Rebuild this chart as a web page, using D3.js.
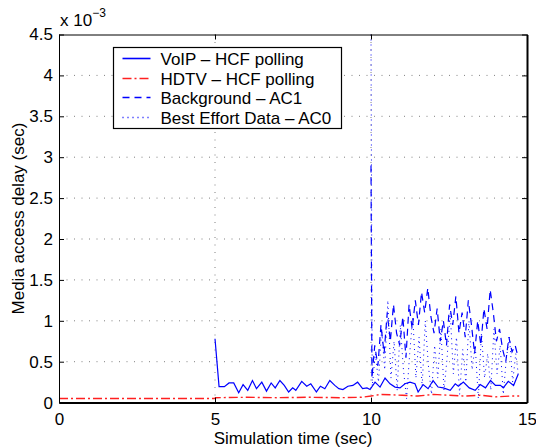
<!DOCTYPE html>
<html>
<head>
<meta charset="UTF-8">
<title>Media access delay</title>
<script src="https://cdn.jsdelivr.net/npm/d3@7"></script>
<style>
  body { margin: 0; background: #fff; }
  svg { font-family: "Liberation Sans", Arial, Helvetica, sans-serif; }
  .grid line { stroke: #808080; stroke-dasharray: 1, 6.5; }
  .axis path, .axis line { stroke: #000; }
  .axis text { font-size: 17px; fill: #000; }
  .thick path { stroke-width: 2; }
</style>
</head>
<body>
<svg id="chart" width="536" height="448"></svg>
<script>
// delays in units of 10^-3 sec
var voipT = [5.00, 5.13, 5.30, 5.45, 5.60, 5.76, 5.90, 6.05, 6.20, 6.33, 6.50, 6.65, 6.80, 6.93, 7.08, 7.22,
             7.36, 7.49, 7.59, 7.78, 7.94, 8.07, 8.25, 8.38, 8.52, 8.68, 8.84, 8.97, 9.10, 9.26, 9.42, 9.57,
             9.73, 9.87, 9.97, 10.13, 10.29, 10.45, 10.61, 10.77, 10.93, 11.09, 11.25, 11.41, 11.51, 11.67,
             11.83, 11.99, 12.15, 12.32, 12.54, 12.70, 12.80, 12.96, 13.15, 13.34, 13.50, 13.67, 13.83, 13.99,
             14.15, 14.24, 14.40, 14.57, 14.72];
var voipV = [0.78, 0.195, 0.195, 0.24, 0.24, 0.12, 0.22, 0.15, 0.27, 0.17, 0.25, 0.14, 0.24, 0.18, 0.27, 0.21,
             0.13, 0.18, 0.15, 0.26, 0.20, 0.23, 0.13, 0.20, 0.17, 0.27, 0.21, 0.17, 0.16, 0.20, 0.21, 0.25,
             0.17, 0.18, 0.16, 0.25, 0.19, 0.30, 0.23, 0.19, 0.18, 0.23, 0.25, 0.23, 0.13, 0.22,
             0.17, 0.27, 0.19, 0.18, 0.15, 0.23, 0.20, 0.25, 0.18, 0.15, 0.22, 0.18, 0.27, 0.21,
             0.21, 0.18, 0.26, 0.21, 0.35];

var hdtvT = [0.00, 4.98, 5.02, 6.00, 7.00, 8.00, 9.00, 9.70, 10.00, 10.30, 11.00, 11.50, 12.00, 12.50, 13.00, 13.50, 14.00, 14.50, 14.75];
var hdtvV = [0.05, 0.05, 0.06, 0.065, 0.06, 0.065, 0.06, 0.065, 0.08, 0.10, 0.09, 0.08, 0.10, 0.09, 0.08, 0.09, 0.07, 0.08, 0.08];

var bgT = [10.00, 10.03, 10.12, 10.22, 10.32, 10.42, 10.52, 10.62, 10.72, 10.82, 10.92, 11.02, 11.12, 11.22, 11.32, 11.42,
           11.52, 11.62, 11.72, 11.82, 11.92, 12.02, 12.12, 12.22, 12.32, 12.42, 12.52, 12.62, 12.72, 12.82, 12.92, 13.02,
           13.12, 13.22, 13.32, 13.42, 13.52, 13.62, 13.72, 13.82, 13.92, 14.02, 14.12, 14.22, 14.32, 14.42, 14.52, 14.62, 14.72];
var bgV = [2.90, 0.30, 0.70, 0.45, 0.95, 0.60, 1.10, 0.75, 1.20, 0.85, 0.70, 1.05, 0.55, 1.20, 0.90, 1.25,
           0.95, 1.35, 1.10, 1.40, 1.05, 0.85, 1.15, 0.75, 1.00, 0.70, 1.20, 0.95, 1.30, 0.85, 1.10, 0.80,
           1.25, 0.95, 0.60, 1.00, 0.70, 1.15, 0.90, 1.38, 1.10, 0.75, 0.90, 0.65, 0.50, 0.80, 0.62, 0.70, 0.55];

var beT = [10.00, 10.04, 10.14, 10.24, 10.34, 10.44, 10.54, 10.64, 10.74, 10.84, 10.94, 11.04, 11.14, 11.24, 11.34, 11.44,
           11.54, 11.64, 11.74, 11.84, 11.94, 12.04, 12.14, 12.24, 12.34, 12.44, 12.54, 12.64, 12.74, 12.84, 12.94, 13.04,
           13.14, 13.24, 13.34, 13.44, 13.54, 13.64, 13.74, 13.84, 13.94, 14.04, 14.14, 14.24, 14.34, 14.44, 14.54, 14.64, 14.72];
var beV = [4.50, 0.20, 0.60, 0.25, 0.90, 0.40, 1.25, 0.30, 0.75, 0.15, 0.95, 0.40, 0.05, 0.60, 1.05, 0.30,
           0.80, 0.20, 1.00, 0.45, 0.10, 0.70, 0.30, 0.90, 0.15, 0.55, 1.10, 0.35, 0.80, 0.10, 0.65, 0.25,
           1.00, 0.40, 0.70, 0.05, 0.85, 0.30, 0.60, 0.15, 0.90, 0.35, 0.70, 0.10, 0.55, 0.80, 0.25, 0.60, 0.35];

var xTicks = [0, 5, 10, 15];
var yTicks = [0, 0.5, 1, 1.5, 2, 2.5, 3, 3.5, 4, 4.5];
var names = ["VoIP \u2013 HCF polling", "HDTV \u2013 HCF polling", "Background \u2013 AC1", "Best Effort Data \u2013 AC0"];

var svg = d3.select("#chart"),
    margin = {top: 34.5, right: 9, bottom: 45.4, left: 59},
    width = +svg.attr("width") - margin.left - margin.right,
    height = +svg.attr("height") - margin.top - margin.bottom;

var x = d3.scaleLinear().domain([0, 15]).range([0, width]);
var y = d3.scaleLinear().domain([0, 4.5]).range([height, 0]);

var g = svg.append("g").attr("transform", "translate(" + margin.left + "," + margin.top + ")");

g.append("defs").append("clipPath").attr("id", "clip")
  .append("rect").attr("width", width).attr("height", height);

// grid
g.append("g").attr("class", "grid")
  .selectAll("line").data(xTicks.slice(1, -1)).enter().append("line")
  .attr("x1", d => x(d)).attr("x2", d => x(d)).attr("y1", 0).attr("y2", height);
g.append("g").attr("class", "grid")
  .selectAll("line").data(yTicks.slice(1, -1)).enter().append("line")
  .attr("y1", d => y(d)).attr("y2", d => y(d)).attr("x1", 0).attr("x2", width);

// series
var series = [
  {t: voipT, v: voipV, color: "#0000ff", dash: null, w: 1.2},
  {t: hdtvT, v: hdtvV, color: "#ff2020", dash: "9,3,2,3", w: 1.4},
  {t: bgT, v: bgV, color: "#0000ff", dash: "7,5", w: 1.2},
  {t: beT, v: beV, color: "#0000ff", dash: "1,4", w: 1}
];

var line = d3.line().x(d => x(d[0])).y(d => y(d[1]));

var plot = g.append("g").attr("clip-path", "url(#clip)");
series.slice().reverse().forEach(function(s) {
  plot.append("path")
    .datum(s.t.map((t, i) => [t, s.v[i]]))
    .attr("fill", "none")
    .attr("stroke", s.color)
    .attr("stroke-width", s.w)
    .attr("stroke-dasharray", s.dash)
    .attr("d", line);
});

// axes (ticks inward)
g.append("g").attr("class", "axis thick")
  .attr("transform", "translate(0," + height + ")")
  .call(d3.axisBottom(x).tickValues(xTicks).tickSizeInner(-5).tickSizeOuter(0).tickPadding(10).tickFormat(d3.format("d")));
g.append("g").attr("class", "axis")
  .call(d3.axisTop(x).tickValues(xTicks).tickSizeInner(-5).tickSizeOuter(0).tickFormat(""));
g.append("g").attr("class", "axis")
  .call(d3.axisLeft(y).tickValues(yTicks).tickSizeInner(-5).tickSizeOuter(0).tickPadding(6).tickFormat(d => d3.format("")(d)));
g.append("g").attr("class", "axis thick")
  .attr("transform", "translate(" + width + ",0)")
  .call(d3.axisRight(y).tickValues(yTicks).tickSizeInner(-5).tickSizeOuter(0).tickFormat(""));

// exponent
var ex = svg.append("text").attr("x", 60).attr("y", 26).attr("font-size", 17);
ex.append("tspan").text("x 10");
ex.append("tspan").attr("dy", -9).attr("font-size", 12).text("\u22123");

// axis labels
svg.append("text")
  .attr("x", margin.left + width / 2).attr("y", 444)
  .attr("text-anchor", "middle").attr("font-size", 17)
  .text("Simulation time (sec)");
svg.append("text")
  .attr("transform", "translate(24," + (margin.top + height / 2) + ") rotate(-90)")
  .attr("text-anchor", "middle").attr("font-size", 17)
  .text("Media access delay (sec)");

// legend
var leg = svg.append("g").attr("transform", "translate(113.5,47.5)");
leg.append("rect").attr("width", 228).attr("height", 81)
  .attr("fill", "#fff").attr("stroke", "#000").attr("stroke-width", 1.2);
var item = leg.selectAll("g.item").data(series).enter().append("g")
  .attr("class", "item")
  .attr("transform", (d, i) => "translate(0," + Math.round(11 + i * 19.5) + ")");
item.append("line")
  .attr("x1", 9).attr("x2", 37)
  .attr("stroke", d => d.color)
  .attr("stroke-width", 1.6)
  .attr("stroke-dasharray", d => d.dash);
item.append("text")
  .attr("x", 47).attr("y", 6).attr("font-size", 17)
  .text((d, i) => names[i]);
</script>
</body>
</html>
